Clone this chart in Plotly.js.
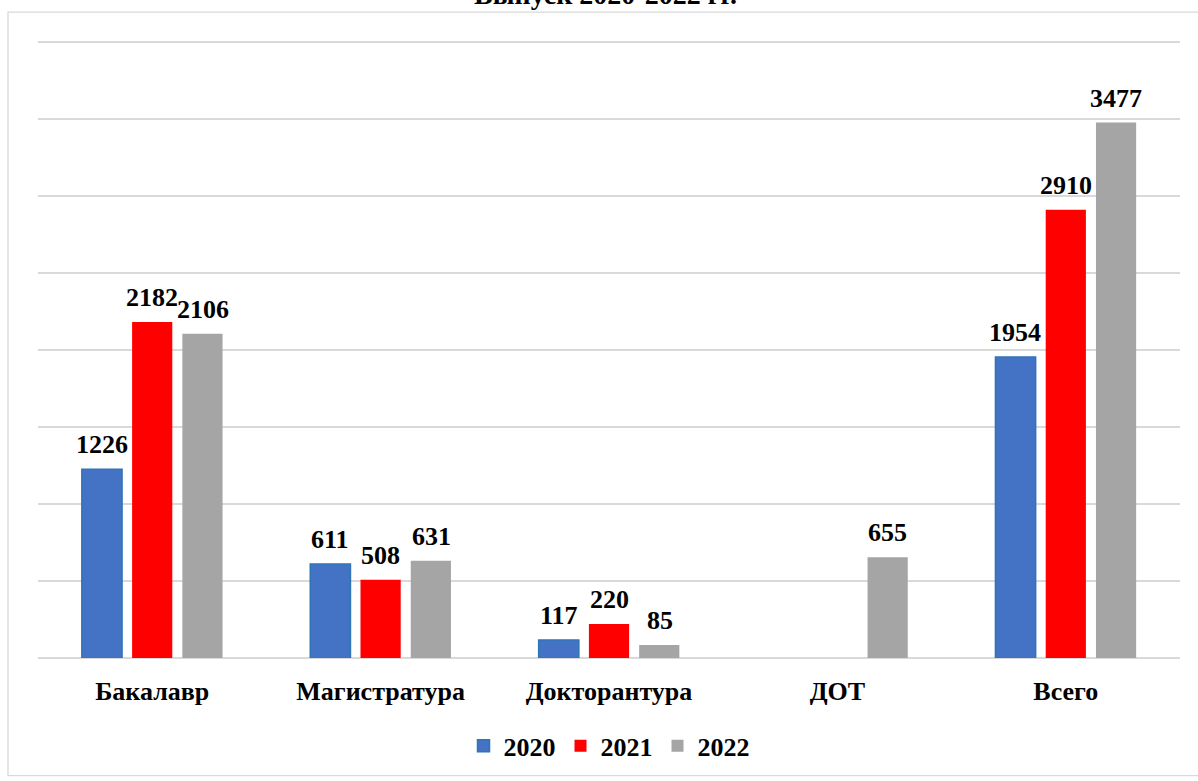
<!DOCTYPE html>
<html>
<head>
<meta charset="utf-8">
<script src="https://cdn.plot.ly/plotly-3.0.1.min.js"></script>
<style>html,body{margin:0;padding:0;background:#fff;}#chart{width:1198px;height:781px;}</style>
</head>
<body>
<div id="chart"></div>
<script>
const categories = ["Бакалавр", "Магистратура", "Докторантура", "ДОТ", "Всего"];
const years = ["2020", "2021", "2022"];
const values2020 = [1226, 611, 117, null, 1954];
const values2021 = [2182, 508, 220, null, 2910];
const values2022 = [2106, 631, 85, 655, 3477];
const colors = ["#4472C4", "#FF0000", "#A5A5A5"];
const lineColors = ["#2E75B6", "#FF0000", "#A5A5A5"];
const titleText = "Выпуск 2020-2022 гг.";

const series = [values2020, values2021, values2022];
const FONT = "Liberation Serif, Times New Roman, serif";
const traces = series.map((vals, i) => ({
  type: "bar",
  name: years[i],
  x: categories,
  y: vals,
  marker: {color: colors[i], line: {color: lineColors[i], width: i === 0 ? 1.5 : 0}}
}));

// value labels above bars
const offsets = [-50.5, 0, 50.5];
const annotations = [];
series.forEach((vals, i) => {
  vals.forEach((v, j) => {
    if (v === null) return;
    annotations.push({
      x: categories[j], y: v, xref: "x", yref: "y",
      text: "<b>" + v + "</b>", showarrow: false,
      xanchor: "center", yanchor: "bottom", xshift: offsets[i], yshift: 8,
      font: {family: FONT, size: 26, color: "#000"}
    });
  });
});
annotations.push({
  text: "<b>" + titleText + "</b>", xref: "paper", yref: "paper",
  x: (605 - 38) / 1142, y: 1 + 46 / 620, xanchor: "center", yanchor: "middle",
  showarrow: false, font: {family: FONT, size: 28, color: "#000"}
});

const layout = {
  width: 1198, height: 781,
  margin: {l: 38, r: 18, t: 40, b: 121},
  paper_bgcolor: "#fff", plot_bgcolor: "#fff",
  barmode: "group", bargap: 0.34, bargroupgap: 0.2,
  font: {family: FONT, color: "#000"},
  xaxis: {tickfont: {family: FONT, size: 26, color: "#000", weight: "bold"}, ticklabelstandoff: 15,
          showline: false, showgrid: false, ticks: ""},
  yaxis: {range: [0, 4013], dtick: 500, showticklabels: false, gridcolor: "#D9D9D9", gridwidth: 1.3,
          zeroline: true, zerolinecolor: "#D9D9D9", zerolinewidth: 1.3, showline: false, fixedrange: true},
  legend: {orientation: "h", x: 0.5, xanchor: "center", y: -0.142, yanchor: "middle",
           font: {family: FONT, size: 26, color: "#000", weight: "bold"}, itemwidth: 30, traceorder: "normal"},
  showlegend: true,
  annotations: annotations,
  shapes: [{type: "rect", xref: "paper", yref: "paper",
            x0: -30/1142, x1: 1.03, y0: -(778-660)/620, y1: 1 + 28/620,
            line: {color: "#D9D9D9", width: 1.3}, fillcolor: "rgba(0,0,0,0)", layer: "below"}]
};
Plotly.newPlot("chart", traces, layout, {displayModeBar: false, staticPlot: true});
</script>
</body>
</html>
